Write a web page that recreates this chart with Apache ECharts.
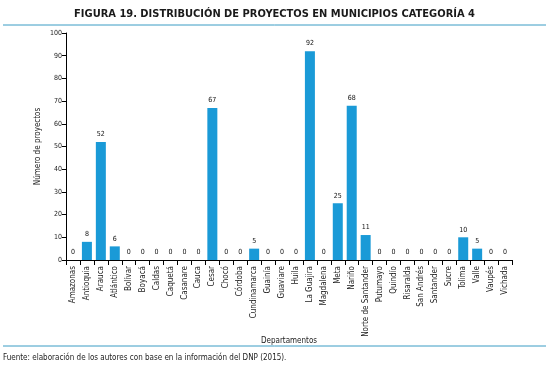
<!DOCTYPE html>
<html><head><meta charset="utf-8">
<script src="https://cdn.jsdelivr.net/npm/echarts@6/dist/echarts.min.js"></script>
<style>html,body{margin:0;padding:0;background:#fff}#c{width:549px;height:369px}</style>
</head><body><div id="c"></div>
<script>
const categories = ["Amazonas","Antioquia","Arauca","Atlántico","Bolívar","Boyacá","Caldas","Caquetá","Casanare","Cauca","Cesar","Chocó","Córdoba","Cundinamarca","Guainía","Guaviare","Huila","La Guajira","Magdalena","Meta","Nariño","Norte de Santander","Putumayo","Quindío","Risaralda","San Andrés","Santander","Sucre","Tolima","Valle","Vaupés","Vichada"];
const proyectos = [0,8,52,6,0,0,0,0,0,0,67,0,0,5,0,0,0,92,0,25,68,11,0,0,0,0,0,0,10,5,0,0];
const yTicks = {min:0, max:100, interval:10};
const titleText = "FIGURA 19. DISTRIBUCIÓN DE PROYECTOS EN MUNICIPIOS CATEGORÍA 4";
const sourceText = "Fuente: elaboración de los autores con base en la información del DNP (2015).";

const FONT = '"Liberation Sans Narrow","DejaVu Sans Condensed","Liberation Sans",sans-serif';
const chart = echarts.init(document.getElementById('c'), null, {renderer:'canvas'});
chart.setOption({
  animation:false,
  textStyle:{fontFamily:FONT},
  title:{text:titleText,left:'center',top:4,textStyle:{fontFamily:FONT,fontSize:11,fontWeight:'bold',color:'#1a1a1a'}},
  graphic:[
    {type:'line',shape:{x1:3,y1:25,x2:546,y2:25},style:{stroke:'#3b9cc4',lineWidth:1}},
    {type:'line',shape:{x1:3,y1:346,x2:546,y2:346},style:{stroke:'#3b9cc4',lineWidth:1}},
    {type:'text',left:3,top:354,style:{text:sourceText,fontFamily:FONT,fontSize:8,fill:'#222'}}
  ],
  grid:{left:66,right:37,top:33,bottom:109,containLabel:false},
  xAxis:{type:'category',data:categories,name:'Departamentos',nameLocation:'middle',nameGap:77,nameMoveOverlap:false,
    nameTextStyle:{fontFamily:FONT,fontSize:8,color:'#222'},
    axisLine:{lineStyle:{color:'#000',width:1}},
    axisTick:{show:true,alignWithLabel:false,length:5,lineStyle:{color:'#000'}},
    axisLabel:{rotate:90,fontFamily:FONT,fontSize:8,color:'#222',margin:6,interval:0}},
  yAxis:{type:'value',min:yTicks.min,max:yTicks.max,interval:yTicks.interval,name:'Número de proyectos',
    nameLocation:'middle',nameGap:24,nameMoveOverlap:false,nameTextStyle:{fontFamily:FONT,fontSize:8,color:'#222'},
    axisLine:{show:true,lineStyle:{color:'#000'}},axisTick:{show:true,length:4,lineStyle:{color:'#000'}},
    splitLine:{show:false},axisLabel:{fontFamily:FONT,fontSize:7,color:'#222',margin:4}},
  series:[{type:'bar',data:proyectos,barWidth:10,itemStyle:{color:'#1a9ad7'},
    label:{show:true,position:'top',distance:4,fontFamily:FONT,fontSize:7,color:'#111'}}]
});
</script></body></html>
